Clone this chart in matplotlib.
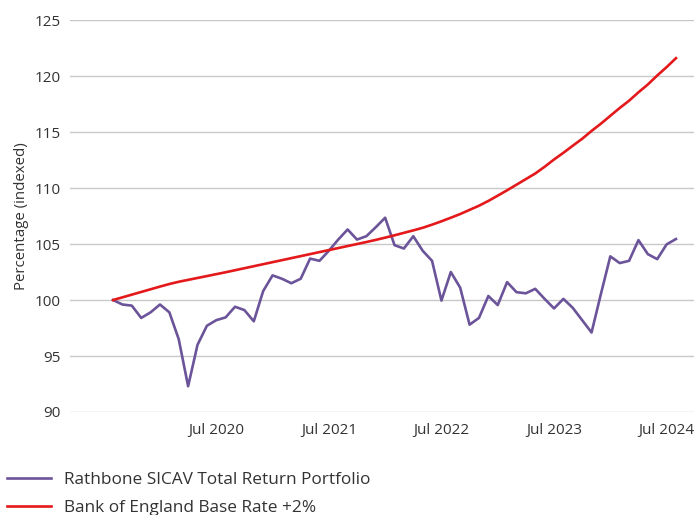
import matplotlib
matplotlib.use("Agg")
import matplotlib.pyplot as plt
import numpy as np

plt.rcParams['font.family'] = ['Open Sans', 'DejaVu Sans']

# monthly points, Aug 2019 .. Aug 2024
months = np.arange(61)
portfolio = [100.0, 99.6, 99.5, 98.4, 98.9, 99.6, 98.9, 96.5, 92.3, 96.0,
             97.7, 98.2, 98.45, 99.4, 99.1, 98.1, 100.8, 102.2, 101.9, 101.5,
             101.9, 103.7, 103.5, 104.4, 105.4, 106.3, 105.4, 105.7, 106.5, 107.35,
             104.9, 104.6, 105.7, 104.4, 103.5, 99.95, 102.5, 101.1, 97.8, 98.4,
             100.36, 99.55, 101.6, 100.7, 100.6, 101.0, 100.1, 99.25, 100.1, 99.3,
             98.2, 97.1, 100.55, 103.9, 103.3, 103.5, 105.35, 104.1, 103.65, 104.97,
             105.45]
boe_plus2 = [100.0, 100.24, 100.48, 100.72, 100.96, 101.2, 101.43, 101.63, 101.8, 101.97,
             102.14, 102.31, 102.48, 102.66, 102.84, 103.02, 103.2, 103.38, 103.56, 103.74,
             103.92, 104.1, 104.28, 104.46, 104.64, 104.82, 105.0, 105.18, 105.37, 105.57,
             105.78, 106.0, 106.22, 106.45, 106.73, 107.03, 107.35, 107.68, 108.05, 108.42,
             108.85, 109.32, 109.8, 110.3, 110.8, 111.3, 111.9, 112.55, 113.15, 113.78,
             114.4, 115.1, 115.75, 116.45, 117.15, 117.8, 118.55, 119.25, 120.05, 120.8,
             121.6]
tick_pos = [11, 23, 35, 47, 59]
tick_labels = ['Jul 2020', 'Jul 2021', 'Jul 2022', 'Jul 2023', 'Jul 2024']

fig = plt.figure(figsize=(6.94, 5.15), dpi=100)
ax = fig.add_axes([0.101, 0.2, 0.899, 0.761])

ax.plot(months, portfolio, color='#6b5499', lw=1.9, label='Rathbone SICAV Total Return Portfolio')
ax.plot(months, boe_plus2, color='#e3191b', lw=1.9, label='Bank of England Base Rate +2%')

ax.set_xlim(-4.58, 61.92)
ax.set_ylim(90, 125)
ax.set_yticks(np.arange(90, 126, 5))
ax.set_xticks(tick_pos)
ax.set_xticklabels(tick_labels)
ax.grid(axis='y', color='#c8c8c8', lw=1)
ax.set_axisbelow(True)
for s in ax.spines.values():
    s.set_visible(False)
ax.tick_params(length=0, labelsize=11, colors='#333333')
ax.tick_params(axis='y', pad=7)
ax.tick_params(axis='x', pad=8)
ax.set_ylabel('Percentage (indexed)', fontsize=10.8, color='#333333', labelpad=4)

fig.legend(loc='upper left', bbox_to_anchor=(-0.012, 0.114), frameon=False,
           fontsize=12.4, handlelength=2.55, handletextpad=0.75, labelspacing=0.68,
           labelcolor='#333333')

fig.savefig('out.png', dpi=100)
